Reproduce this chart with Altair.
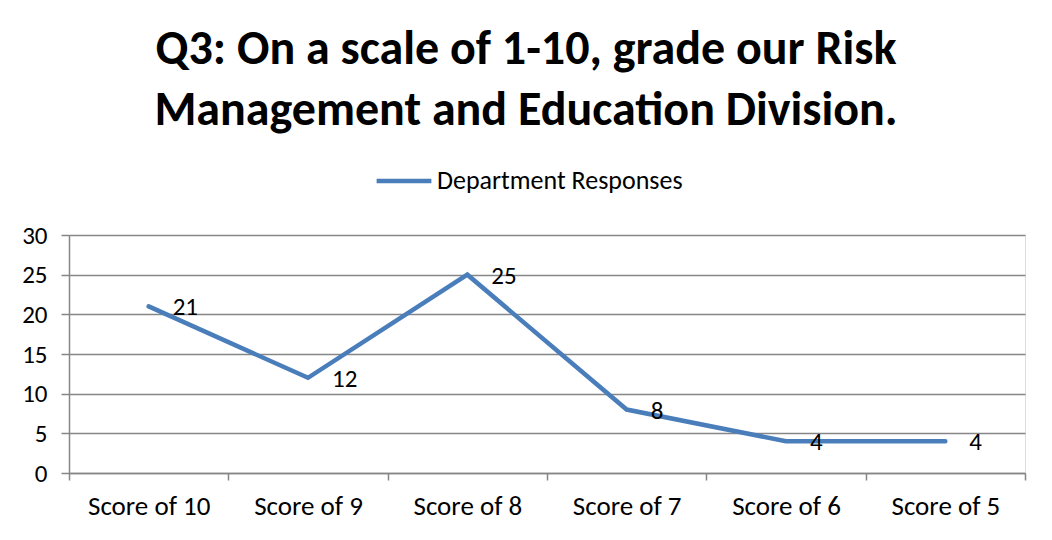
import altair as alt
import pandas as pd

categories = ["Score of 10", "Score of 9", "Score of 8", "Score of 7", "Score of 6", "Score of 5"]
values = [21, 12, 25, 8, 4, 4]
series_name = "Department Responses"
title_lines = ["Q3: On a scale of 1-10, grade our Risk", "Management and Education Division."]
y_ticks = [0, 5, 10, 15, 20, 25, 30]

df = pd.DataFrame({"category": categories, "value": values, "series": [series_name] * len(categories)})

FONT = "Carlito, Lato, sans-serif"
GRID = "#868686"
BLUE = "#4A7EBB"

x_axis = alt.Axis(title=None, labelAngle=0, tickBand="extent", labelFontSize=27,
                  labelPadding=13, tickSize=7, tickColor=GRID, domainColor=GRID,
                  domainWidth=1.5, tickWidth=1.5, grid=False, labelColor="black",
                  labelFont=FONT, labelLimit=300)
y_axis = alt.Axis(title=None, values=y_ticks, tickCount=7, labelFontSize=25,
                  labelPadding=14, tickSize=8, tickColor=GRID, domainColor=GRID,
                  domainWidth=1.5, tickWidth=1.5, gridColor=GRID, gridWidth=1.5,
                  labelColor="black", labelFont=FONT, labelOverlap=False)

x_enc = alt.X("category:N", sort=categories, bandPosition=0.5,
              scale=alt.Scale(type="band", paddingInner=0, paddingOuter=0), axis=x_axis)
y_enc = alt.Y("value:Q", scale=alt.Scale(domain=[0, 30]), axis=y_axis)

line = alt.Chart(df).mark_line(strokeWidth=4.5, strokeCap="round", strokeJoin="miter").encode(
    x=x_enc, y=y_enc,
    color=alt.Color("series:N", scale=alt.Scale(range=[BLUE]),
                    legend=alt.Legend(title=None, orient="none", legendX=305, legendY=-84,
                                      symbolType="stroke", symbolSize=3000, symbolStrokeWidth=4.5,
                                      labelFontSize=26, labelFont=FONT, labelColor="black",
                                      labelOffset=3, labelLimit=500))
)

labels = alt.Chart(df).mark_text(align="left", baseline="middle", dx=24, dy=1,
                                 fontSize=25, font=FONT, color="black").encode(
    x=x_enc, y=y_enc, text="value:Q"
)

chart = (line + labels).properties(
    width=956, height=238,
    title=alt.TitleParams(text=title_lines, fontSize=48, font=FONT, fontWeight="bold",
                          color="black", anchor="middle", dx=-21, offset=16, lineHeight=61),
    padding={"left": 61, "top": 227, "right": 19, "bottom": 59},
    autosize=alt.AutoSizeParams(type="none")
).configure_view(stroke=None).configure(background="white")

chart.save("out.html", embed_options={"renderer": "svg", "actions": False})
